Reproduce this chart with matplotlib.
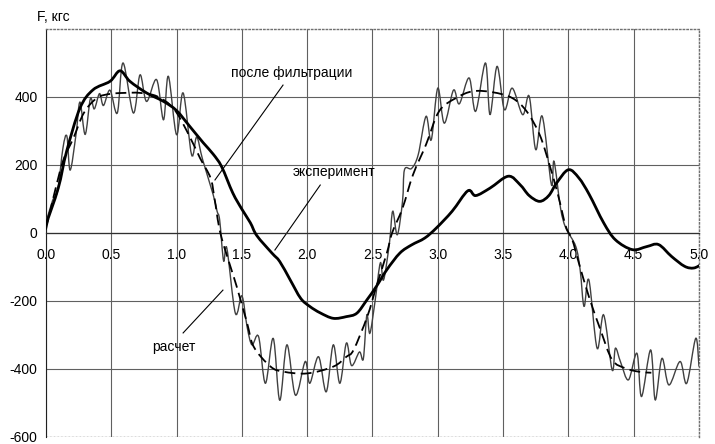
import matplotlib.pyplot as plt
from matplotlib.path import Path
from matplotlib.patches import PathPatch

plt.rcParams['font.family'] = ['Liberation Sans', 'DejaVu Sans']
plt.rcParams['axes.unicode_minus'] = False

# эксперимент (thick line)
t_exp = [0, 0.094, 0.158, 0.26, 0.36, 0.49, 0.567, 0.643, 0.77, 0.90, 1.0, 1.10, 1.205,
         1.28, 1.345, 1.43, 1.50, 1.565, 1.615, 1.73, 1.79, 1.87, 1.95, 2.02, 2.10, 2.20,
         2.30, 2.38, 2.457, 2.53, 2.61, 2.71, 2.80, 2.90, 2.99, 3.11, 3.23, 3.29, 3.40,
         3.54, 3.63, 3.70, 3.78, 3.85, 3.91, 4.0, 4.08, 4.16, 4.27, 4.36, 4.49, 4.60,
         4.69, 4.79, 4.89, 4.96, 5.02]
f_exp = [25, 132, 240, 367, 421, 446, 477, 446, 412, 387, 360, 314, 265,
         232, 195, 118, 70, 30, -8, -59, -84, -138, -192, -216, -235, -251,
         -246, -236, -197, -157, -108, -59, -35, -15, 15, 64, 124, 110, 132,
         167, 142, 110, 93, 110, 147, 186, 162, 113, 30, -20, -49, -40,
         -34, -69, -98, -103, -92]

# расчет (dashed line)
t_calc = [0, 0.056, 0.13, 0.21, 0.29, 0.39, 0.49, 0.60, 0.72, 0.85, 0.975, 1.08, 1.18,
          1.26, 1.29, 1.335, 1.42, 1.46, 1.54, 1.59, 1.72, 1.82, 2.0, 2.20, 2.30, 2.355,
          2.46, 2.53, 2.61, 2.65, 2.73, 2.81, 2.91, 3.01, 3.14, 3.27, 3.42, 3.57, 3.68,
          3.78, 3.855, 3.92, 3.98, 4.03, 4.08, 4.157, 4.246, 4.335, 4.437, 4.54, 4.635]
f_calc = [10, 103, 211, 279, 353, 397, 409, 412, 412, 402, 367, 299, 220,
          162, 103, 0, -108, -157, -265, -334, -393, -408, -413, -393, -364, -344,
          -246, -157, -59, 0, 73, 171, 260, 358, 397, 417, 414, 397, 358,
          289, 201, 113, 20, -20, -88, -187, -285, -373, -398, -408, -411]

# после фильтрации (thin oscillating line)
t_filt = [0.00, 0.05, 0.09, 0.13, 0.16, 0.185, 0.23, 0.26, 0.30, 0.34, 0.37, 0.41, 0.44,
          0.49, 0.546, 0.59, 0.669, 0.72, 0.77, 0.847, 0.90, 0.937, 1.00, 1.05, 1.115,
          1.154, 1.20, 1.28, 1.31, 1.33, 1.36, 1.385, 1.45, 1.50, 1.54, 1.577, 1.628,
          1.68, 1.74, 1.79, 1.845, 1.91, 1.985, 2.02, 2.087, 2.146, 2.20, 2.25, 2.30,
          2.34, 2.40, 2.43, 2.457, 2.48, 2.52, 2.56, 2.585, 2.63, 2.655, 2.69, 2.73,
          2.745, 2.80, 2.85, 2.91, 2.95, 3.00, 3.05, 3.12, 3.165, 3.24, 3.29, 3.365,
          3.40, 3.454, 3.51, 3.57, 3.65, 3.70, 3.75, 3.80, 3.87, 3.89, 3.94, 3.98,
          4.056, 4.09, 4.12, 4.157, 4.22, 4.27, 4.335, 4.36, 4.40, 4.46, 4.525, 4.56,
          4.63, 4.665, 4.716, 4.77, 4.855, 4.906, 4.975, 5.0]
f_filt = [30, 95, 125, 250, 285, 185, 290, 385, 290, 395, 365, 410, 375,
          420, 353, 500, 353, 465, 387, 451, 333, 461, 289, 412, 230,
          282, 215, 113, 64, 38, -82, -45, -236, -185, -276, -329, -305,
          -442, -310, -492, -329, -477, -378, -442, -364, -467, -329, -442, -324,
          -390, -350, -370, -241, -295, -200, -88, -138, -29, 64, -5, 93,
          186, 190, 230, 343, 274, 426, 323, 420, 380, 456, 358, 500,
          348, 490, 363, 426, 348, 402, 245, 343, 142, 211, 73, 15,
          -39, -108, -216, -138, -339, -241, -403, -339, -380, -432, -354, -481,
          -344, -491, -369, -447, -378, -442, -310, -393]

x_ticks = [0.0, 0.5, 1.0, 1.5, 2.0, 2.5, 3.0, 3.5, 4.0, 4.5, 5.0]
x_labels = ['0.0', '0.5', '1.0', '1.5', '2.0', '2.5', '3.0', '3.5', '4.0', '4.5', '5.0']
y_ticks = [-600, -400, -200, 0, 200, 400]
y_labels = ['-600', '-400', '-200', '0', '200', '400']


def smooth(ax, xs, ys, **kw):
    # catmull-rom through the read points, drawn as bezier path
    pts = list(zip(xs, ys))
    n = len(pts)
    verts = [pts[0]]
    codes = [Path.MOVETO]
    for i in range(n - 1):
        p0 = pts[max(i - 1, 0)]
        p1 = pts[i]
        p2 = pts[i + 1]
        p3 = pts[min(i + 2, n - 1)]
        c1 = (p1[0] + (p2[0] - p0[0]) / 6, p1[1] + (p2[1] - p0[1]) / 6)
        c2 = (p2[0] - (p3[0] - p1[0]) / 6, p2[1] - (p3[1] - p1[1]) / 6)
        verts += [c1, c2, p2]
        codes += [Path.CURVE4] * 3
    ax.add_patch(PathPatch(Path(verts, codes), fill=False, **kw))


fig = plt.figure(figsize=(7.15, 4.44), dpi=100)
ax = fig.add_axes([0.0643, 0.0158, 0.9133, 0.9189])

ax.set_xlim(0, 5)
ax.set_ylim(-600, 600)
ax.set_xticks(x_ticks)
ax.set_xticklabels(x_labels, fontsize=10)
ax.set_yticks(y_ticks)
ax.set_yticklabels(y_labels, fontsize=10)
ax.tick_params(axis='both', length=0)
ax.tick_params(axis='x', pad=11)
ax.tick_params(axis='y', pad=6)
ax.grid(True, color='#606060', lw=0.8)

ax.spines['bottom'].set_position(('data', 0))
ax.spines['bottom'].set_color('#303030')
ax.spines['bottom'].set_linewidth(0.9)
ax.spines['left'].set_color('#202020')
for s in ['top', 'right']:
    ax.spines[s].set_color('#707070')
    ax.spines[s].set_linestyle(':')
    ax.spines[s].set_linewidth(1.0)
ax.axhline(-600, color='#707070', lw=1.0, ls=':')

smooth(ax, t_filt, f_filt, edgecolor='#404040', lw=1.0, zorder=3)
smooth(ax, t_calc, f_calc, edgecolor='black', lw=1.3, ls=(0, (6, 3)), zorder=4)
smooth(ax, t_exp, f_exp, edgecolor='black', lw=2.0, zorder=5)

# annotations
ax.text(1.88, 470, 'после фильтрации', fontsize=10, ha='center', va='center')
ax.plot([1.815, 1.294], [435, 156], color='black', lw=0.8)
ax.text(2.205, 179, 'эксперимент', fontsize=10, ha='center', va='center')
ax.plot([2.10, 1.753], [141, -50], color='black', lw=0.8)
ax.text(0.98, -335, 'расчет', fontsize=10, ha='center', va='center')
ax.plot([1.05, 1.355], [-294, -168], color='black', lw=0.8)

fig.text(37 / 715, 1 - 17 / 444, 'F, кгс', fontsize=10, ha='left', va='center')

fig.savefig('out.png', dpi=100)
